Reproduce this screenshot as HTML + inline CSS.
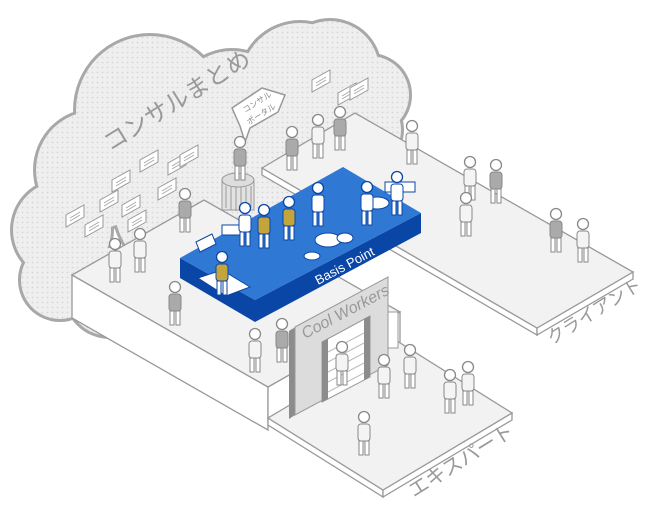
<!DOCTYPE html>
<html><head><meta charset="utf-8"><style>
html,body{margin:0;padding:0;background:#fff;}
svg{display:block;}
text{font-family:"Liberation Sans","Noto Sans CJK JP",sans-serif;}
</style></head><body>
<svg width="650" height="514" viewBox="0 0 650 514" xmlns="http://www.w3.org/2000/svg">
<defs>
<pattern id="dots" width="5" height="5" patternUnits="userSpaceOnUse">
<rect width="5" height="5" fill="#efefef"/><circle cx="2.5" cy="2.5" r="0.9" fill="#d6d6d6"/>
</pattern>
<g id="pg"><circle cx="0" cy="-38" r="5.5" fill="#fff" stroke="#888" stroke-width="1.3"/><rect x="-6" y="-31" width="12" height="17" rx="3" fill="#aaa" stroke="#888"/><rect x="-5" y="-14" width="4" height="14" fill="#fff" stroke="#888"/><rect x="1" y="-14" width="4" height="14" fill="#fff" stroke="#888"/></g>
<g id="pw"><circle cx="0" cy="-38" r="5.5" fill="#fff" stroke="#888" stroke-width="1.3"/><rect x="-6" y="-31" width="12" height="17" rx="3" fill="#f4f4f4" stroke="#888"/><rect x="-5" y="-14" width="4" height="14" fill="#fff" stroke="#888"/><rect x="1" y="-14" width="4" height="14" fill="#fff" stroke="#888"/></g>
<g id="pb"><circle cx="0" cy="-38" r="5.5" fill="#fff" stroke="#0a46a6" stroke-width="1.3"/><rect x="-6" y="-31" width="12" height="17" rx="3" fill="#fff" stroke="#0a46a6"/><rect x="-5" y="-14" width="4" height="14" fill="#fff" stroke="#0a46a6"/><rect x="1" y="-14" width="4" height="14" fill="#fff" stroke="#0a46a6"/></g>
<g id="py"><circle cx="0" cy="-38" r="5.5" fill="#fff" stroke="#0a46a6" stroke-width="1.3"/><rect x="-6" y="-31" width="12" height="17" rx="3" fill="#c4a53c" stroke="#0a46a6"/><rect x="-5" y="-14" width="4" height="14" fill="#fff" stroke="#0a46a6"/><rect x="1" y="-14" width="4" height="14" fill="#fff" stroke="#0a46a6"/></g>
<g id="bd"><path d="M0 0 L18 -10 L18 2 L0 12 Z" fill="#fff" stroke="#999" stroke-width="1"/><path d="M4 3 L14 -3 M4 6 L14 0" stroke="#aaa"/></g>
</defs>

<g fill="#a8a8a8">
<circle cx="150" cy="110" r="77"/><circle cx="95" cy="170" r="62"/><circle cx="62" cy="230" r="52"/><circle cx="60" cy="280" r="42"/><circle cx="110" cy="292" r="47"/><circle cx="232" cy="110" r="62"/><circle cx="300" cy="82" r="62"/><circle cx="330" cy="70" r="52"/><circle cx="370" cy="95" r="42"/><circle cx="362" cy="130" r="42"/><circle cx="200" cy="200" r="90"/><circle cx="300" cy="170" r="70"/>
</g>
<g fill="url(#dots)">
<circle cx="150" cy="110" r="74"/><circle cx="95" cy="170" r="59"/><circle cx="62" cy="230" r="49"/><circle cx="60" cy="280" r="39"/><circle cx="110" cy="292" r="44"/><circle cx="232" cy="110" r="59"/><circle cx="300" cy="82" r="59"/><circle cx="330" cy="70" r="49"/><circle cx="370" cy="95" r="39"/><circle cx="362" cy="130" r="39"/><circle cx="200" cy="200" r="87"/><circle cx="300" cy="170" r="67"/>
</g>
<text x="0" y="0" font-size="24" fill="#999" transform="translate(110,152) rotate(-32)">コンサルまとめ</text>
<use href="#bd" x="66" y="215"/><use href="#bd" x="85" y="225"/><use href="#bd" x="122" y="205"/><use href="#bd" x="100" y="200"/><use href="#bd" x="128" y="220"/><use href="#bd" x="112" y="180"/><use href="#bd" x="140" y="160"/><use href="#bd" x="158" y="188"/><use href="#bd" x="168" y="163"/><use href="#bd" x="180" y="155"/><use href="#bd" x="250" y="112"/><use href="#bd" x="262" y="105"/><use href="#bd" x="312" y="80"/><use href="#bd" x="338" y="93"/><use href="#bd" x="350" y="88"/>
<path d="M232 108 L262 88 L285 95 L278 112 L250 128 L245 142 L240 126 Z" fill="#fff" stroke="#999" stroke-width="1.5"/>
<text font-size="8" fill="#888" transform="translate(245,113) rotate(-32)">コンサル</text>
<text font-size="8" fill="#888" transform="translate(249,125) rotate(-32)">ポータル</text>

<polygon points="262,168 537,328 537,335 262,175" fill="#fff" stroke="#999" stroke-width="1.3"/>
<polygon points="537,328 633,272 633,279 537,335" fill="#fff" stroke="#999" stroke-width="1.3"/>
<polygon points="262,168 355,113 633,272 537,328" fill="#f2f2f2" stroke="#999" stroke-width="1.3"/>
<text font-size="18" fill="#999" transform="translate(552,345) rotate(-32)">クライアント</text>

<polygon points="72,275 268,387 268,430 72,318" fill="#fff" stroke="#999" stroke-width="1.3"/>
<polygon points="268,387 400,312 400,343 268,418" fill="#fff" stroke="#999" stroke-width="1.3"/>
<polygon points="72,275 204,200 400,312 268,387" fill="#f2f2f2" stroke="#999" stroke-width="1.3"/>

<rect x="222" y="180" width="32" height="30" fill="#e2e2e2" stroke="#999"/>
<ellipse cx="238" cy="180" rx="16" ry="7" fill="#ddd" stroke="#999"/>
<path d="M226 186 V208 M231 187 V210 M236 187 V211 M241 187 V211 M246 187 V210 M251 186 V208" stroke="#999"/>

<use href="#pw" x="115" y="282"/><use href="#pw" x="140" y="272"/><use href="#pg" x="185" y="232"/>
<use href="#pg" x="240" y="180"/><use href="#pg" x="292" y="170"/><use href="#pw" x="318" y="158"/><use href="#pg" x="340" y="150"/>
<use href="#pw" x="412" y="164"/><use href="#pw" x="470" y="200"/><use href="#pg" x="496" y="203"/><use href="#pw" x="466" y="236"/>
<use href="#pg" x="556" y="252"/><use href="#pw" x="583" y="262"/>

<polygon points="180,258 255,300 255,322 180,278" fill="#0a46a6"/>
<polygon points="255,300 421,213 421,233 255,322" fill="#0a46a6"/>
<polygon points="180,258 343,167 421,213 255,300" fill="#2f78d4"/>
<polygon points="198,278 222,270 250,287 226,296" fill="#fff" stroke="#0a46a6"/>
<text font-size="13" fill="#fff" transform="translate(318,285) rotate(-28)">Basis Point</text>
<polygon points="196,242 212,234 216,244 200,252" fill="#fff" stroke="#0a46a6"/>
<rect x="222" y="225" width="18" height="10" fill="#fff" stroke="#0a46a6"/>
<rect x="385" y="182" width="30" height="10" fill="#fff" stroke="#0a46a6"/>
<ellipse cx="328" cy="240" rx="13" ry="7" fill="#fff" stroke="#0a46a6"/>
<ellipse cx="345" cy="238" rx="8" ry="5" fill="#fff" stroke="#0a46a6"/>
<ellipse cx="312" cy="256" rx="8" ry="4" fill="#fff" stroke="#0a46a6"/>
<ellipse cx="377" cy="203" rx="12" ry="6" fill="#fff" stroke="#0a46a6"/>
<use href="#pb" x="245" y="246"/><use href="#py" x="264" y="248"/><use href="#py" x="289" y="240"/><use href="#pb" x="318" y="226"/><use href="#pb" x="367" y="225"/><use href="#pb" x="397" y="215"/><use href="#py" x="222" y="295"/>

<polygon points="268,418 383,490 383,497 268,425" fill="#fff" stroke="#999" stroke-width="1.3"/>
<polygon points="383,490 512,413 512,420 383,497" fill="#fff" stroke="#999" stroke-width="1.3"/>
<polygon points="268,418 397,341 512,413 383,490" fill="#f2f2f2" stroke="#999" stroke-width="1.3"/>
<text font-size="20" fill="#999" transform="translate(414,498) rotate(-32)">エキスパート</text>

<rect x="388" y="312" width="10" height="36" fill="#fff" stroke="#999"/>
<polygon points="289,331 295,327 295,415 289,419" fill="#8c8c8c"/>
<polygon points="289,331 382,280 388,277 295,327" fill="#bbb"/>
<polygon points="295,327 388,277 388,365 295,415" fill="#dcdcdc" stroke="#999"/>
<polygon points="322,342 370,316 370,377 322,402" fill="#fff" stroke="#999"/>
<polygon points="322,342 328,339 328,399 322,402" fill="#8c8c8c"/>
<polygon points="364,319 370,316 370,377 364,380" fill="#8c8c8c"/>
<path d="M328 352 L364 333 M328 362 L364 343 M328 372 L364 353 M328 382 L364 363 M328 392 L364 373" stroke="#bbb"/>
<text font-size="16" font-style="italic" fill="#999" transform="translate(305,339) rotate(-28)">Cool Workers</text>

<use href="#pg" x="175" y="325"/><use href="#pw" x="255" y="372"/><use href="#pg" x="282" y="362"/>
<use href="#pw" x="342" y="385"/><use href="#pw" x="384" y="398"/><use href="#pw" x="410" y="388"/>
<use href="#pw" x="450" y="413"/><use href="#pw" x="468" y="405"/><use href="#pw" x="364" y="455"/>
</svg>
</body></html>
